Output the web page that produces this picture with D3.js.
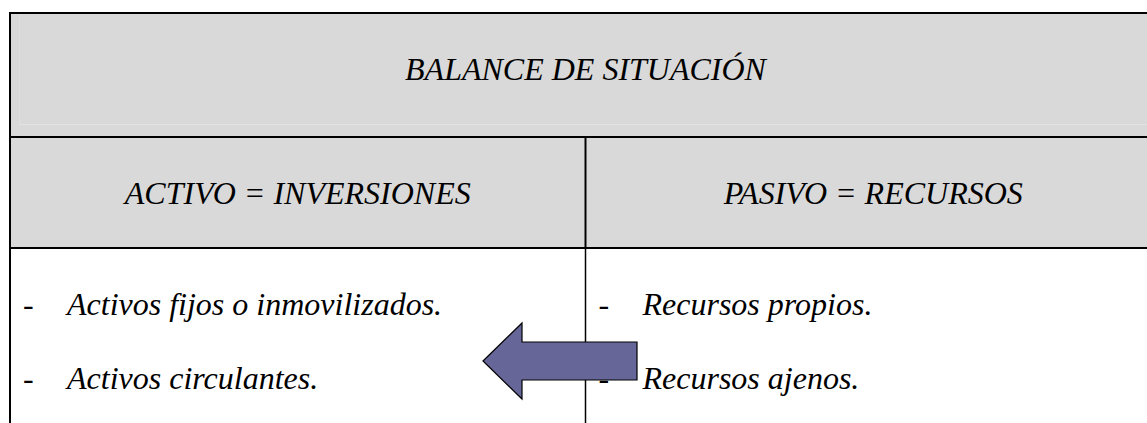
<!DOCTYPE html>
<html><head><meta charset="utf-8"><script src="https://cdn.jsdelivr.net/npm/d3@7"></script>
<style>
  svg text { font-family: "Times New Roman", "Liberation Serif", Tinos, Times !important; }
</style>
</head>
<body style="margin:0">
<svg id="chart" width="1147" height="423" style="display:block"></svg>
<script>
const headingText = "BALANCE DE SITUACIÓN";
const columns = ["ACTIVO = INVERSIONES", "PASIVO = RECURSOS"];
const leftItems = ["Activos fijos o inmovilizados.", "Activos circulantes."];
const rightItems = ["Recursos propios.", "Recursos ajenos."];
const items = [leftItems, rightItems];

const svg = d3.select("#chart");
const W = 1147, H = 423;

const tableLeft = 10, tableRight = 1161;
const x = d3.scaleBand().domain(d3.range(columns.length)).range([tableLeft, tableRight]);
const rowY = d3.scaleOrdinal().domain(["top", "title", "header", "body"]).range([13, 137, 248, 460]);

svg.append("rect").attr("x", tableLeft).attr("y", rowY("top"))
  .attr("width", tableRight - tableLeft).attr("height", rowY("header") - rowY("top"))
  .attr("fill", "#d9d9d9");
svg.append("line").attr("x1", 19).attr("x2", W).attr("y1", 124.5).attr("y2", 124.5)
  .attr("stroke", "#e2e2e2").attr("stroke-width", 1);
svg.append("line").attr("x1", 19.5).attr("x2", 19.5).attr("y1", 14).attr("y2", 124)
  .attr("stroke", "#dedede").attr("stroke-width", 1);

function txt(sel, italic) {
  return sel.attr("fill", "#000")
    .attr("font-family", "Times New Roman")
    .style("font", (italic ? "italic " : "") + '32px "Times New Roman", "Liberation Serif"');
}

svg.append("text").attr("x", (tableLeft + tableRight) / 2).attr("y", 80)
  .attr("text-anchor", "middle").call(txt, true).text(headingText);

svg.selectAll("text.hdr").data(columns).join("text").attr("class", "hdr")
  .attr("x", (d, i) => x(i) + x.bandwidth() / 2).attr("y", 204)
  .attr("text-anchor", "middle").call(txt, true).text(d => d);

const itemBase = [315, 389];
items.forEach((list, ci) => {
  svg.append("g").selectAll("text.dash").data(list).join("text").attr("class", "dash")
    .attr("x", x(ci) + 13).attr("y", (d, ri) => itemBase[ri]).call(txt, false).text("-");
  svg.append("g").selectAll("text.item").data(list).join("text").attr("class", "item")
    .attr("x", x(ci) + 57).attr("y", (d, ri) => itemBase[ri]).call(txt, true).text(d => d);
});

const lineAttrs = sel => sel.attr("stroke", "#000").attr("stroke-width", 2);
svg.append("line").attr("x1", tableLeft - 1).attr("x2", W).attr("y1", rowY("top")).attr("y2", rowY("top")).call(lineAttrs);
svg.append("line").attr("x1", tableLeft).attr("x2", W).attr("y1", rowY("title")).attr("y2", rowY("title")).call(lineAttrs);
svg.append("line").attr("x1", tableLeft).attr("x2", W).attr("y1", rowY("header")).attr("y2", rowY("header")).call(lineAttrs);
svg.append("line").attr("x1", tableLeft).attr("x2", tableLeft).attr("y1", rowY("top") - 1).attr("y2", H).call(lineAttrs);
svg.append("line").attr("x1", x(1)).attr("x2", x(1)).attr("y1", rowY("title")).attr("y2", rowY("header")).call(lineAttrs);
svg.append("line").attr("x1", x(1)).attr("x2", x(1)).attr("y1", rowY("header")).attr("y2", H)
  .attr("stroke", "#000").attr("stroke-width", 1.5);

const arrowShape = [[483, 361], [522, 323], [522, 342], [637, 342], [637, 380], [522, 380], [522, 399]];
svg.append("path").attr("d", d3.line()(arrowShape) + "Z")
  .attr("fill", "#666699").attr("stroke", "#000").attr("stroke-width", 1.2)
  .attr("stroke-linejoin", "miter");
</script>
</body></html>
